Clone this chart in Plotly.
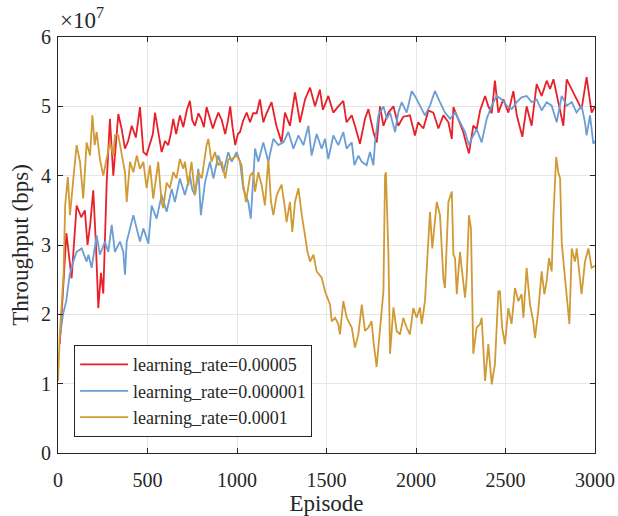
import plotly.graph_objects as go

# values in units of 1e7 bps
red_x = [10,47,76,104,130,150,165,180,197,212,225,240,253,272,290,309,337,356,374,392,412,435,458,477,495,514,530,542,560,579,598,616,630,644,660,681,700,720,737,750,765,785,800,815,830,849,865,880,896,915,934,950,962,975,990,1005,1017,1035,1054,1073,1090,1110,1128,1147,1165,1193,1220,1249,1268,1296,1324,1352,1380,1408,1436,1463,1480,1510,1538,1566,1594,1612,1641,1659,1687,1715,1734,1762,1781,1799,1818,1846,1874,1901,1929,1966,1994,2012,2041,2069,2097,2125,2153,2181,2200,2209,2237,2264,2283,2296,2320,2339,2358,2386,2404,2423,2441,2460,2488,2516,2544,2563,2594,2618,2646,2674,2702,2730,2749,2768,2795,2823,2842,2870,2897,2925,2953,2981,3000]
red_y = [1.57,3.17,2.52,3.57,3.4,3.5,3.0,3.3,3.79,3.0,2.09,2.6,2.3,3.9,4.82,4.0,4.89,4.67,4.39,4.5,4.72,4.55,4.99,4.34,4.3,4.48,4.6,4.91,4.6,4.34,4.5,4.44,4.6,4.82,4.6,4.87,4.7,4.95,5.08,4.8,4.72,4.9,4.82,4.7,4.99,4.8,4.68,4.8,4.91,4.8,4.6,4.8,5.0,4.7,4.44,4.6,4.63,4.8,4.91,4.77,4.9,4.9,5.1,4.77,4.9,5.06,4.72,4.48,4.91,4.72,5.2,4.77,5.1,5.27,5.0,5.24,4.95,5.15,4.91,5.0,5.08,4.77,4.87,4.72,4.46,4.82,4.96,4.63,4.48,5.0,4.72,4.91,5.0,4.72,4.85,4.87,4.58,4.77,4.68,4.94,4.91,4.68,4.87,4.77,4.53,4.99,4.8,4.63,4.44,4.32,4.72,4.67,4.94,5.15,5.0,4.9,5.37,4.91,5.1,4.91,5.22,4.87,4.56,5.0,4.72,5.32,5.15,5.37,5.25,5.39,5.06,4.72,5.39,5.25,5.1,4.96,5.42,4.91,5.0]

blue_x = [10,28,46,65,85,104,132,160,170,188,216,234,262,281,300,318,346,365,374,384,421,440,458,477,505,523,551,579,607,635,653,681,709,737,750,765,784,798,821,849,868,896,924,951,970,998,1017,1035,1063,1077,1090,1101,1119,1147,1175,1203,1231,1259,1287,1315,1343,1371,1399,1417,1445,1473,1492,1510,1538,1566,1594,1612,1641,1656,1678,1697,1724,1743,1762,1771,1790,1818,1837,1855,1883,1901,1920,1948,1976,1994,2022,2050,2078,2106,2134,2162,2190,2218,2246,2274,2296,2310,2339,2367,2395,2423,2451,2479,2507,2535,2563,2590,2618,2646,2674,2702,2730,2758,2786,2814,2842,2870,2897,2925,2944,2953,2972,2991,3000]
blue_y = [1.66,2.0,2.19,2.57,2.76,2.9,2.95,2.76,2.86,2.67,3.14,2.86,3.05,2.9,3.29,2.9,3.05,2.9,2.57,3.05,3.43,3.24,3.05,3.24,3.02,3.57,3.38,3.72,3.48,3.81,3.62,3.96,3.72,4.0,3.8,3.72,4.1,3.43,3.9,4.2,3.96,4.29,4.05,4.34,4.2,4.34,4.2,3.81,3.62,3.38,3.9,4.39,4.2,4.48,4.2,4.53,4.44,4.48,4.63,4.39,4.58,4.44,4.72,4.29,4.6,4.39,4.53,4.24,4.58,4.44,4.63,4.39,4.48,4.15,4.29,4.2,4.15,4.34,4.15,4.48,4.87,5.0,4.82,4.91,4.63,4.91,5.06,4.91,5.22,5.15,5.01,4.87,5.01,5.22,5.06,4.91,4.82,4.91,4.77,4.63,4.44,4.53,4.67,4.48,4.82,5.01,5.15,5.1,5.01,4.96,5.06,5.13,5.15,5.06,5.1,4.94,5.06,5.01,4.77,5.15,5.01,5.06,4.91,5.01,4.77,4.58,4.87,4.46,4.5]

gold_x = [0,10,31,40,55,67,86,104,123,141,160,179,192,205,216,234,253,272,290,309,318,337,356,374,384,402,421,440,458,477,495,514,532,551,560,579,588,607,625,644,662,681,700,709,728,746,765,784,803,830,840,858,877,896,915,934,952,971,1000,1026,1035,1050,1073,1091,1101,1119,1138,1156,1175,1190,1203,1222,1249,1268,1277,1296,1309,1324,1343,1362,1380,1394,1408,1427,1445,1463,1473,1492,1510,1520,1529,1548,1566,1575,1594,1613,1641,1659,1678,1697,1715,1734,1752,1762,1780,1799,1818,1827,1832,1846,1855,1874,1892,1911,1929,1948,1966,1985,2004,2022,2032,2050,2060,2078,2091,2103,2116,2134,2153,2162,2181,2200,2209,2218,2228,2237,2246,2255,2274,2283,2296,2307,2320,2339,2358,2367,2376,2386,2404,2423,2441,2460,2469,2481,2497,2516,2534,2553,2572,2590,2600,2618,2637,2655,2665,2683,2702,2717,2730,2743,2758,2768,2783,2795,2805,2814,2827,2842,2857,2870,2888,2898,2916,2925,2944,2963,2981,3000]
gold_y = [1.04,1.7,2.57,3.57,3.98,3.43,3.96,4.44,4.2,3.67,4.48,4.29,4.87,4.44,4.63,4.24,4.0,4.24,4.48,4.29,4.58,4.58,4.29,4.05,3.62,4.2,4.05,4.29,4.1,4.2,3.82,4.15,3.67,4.0,4.2,3.62,3.53,3.9,3.82,4.05,3.96,4.24,4.1,4.2,3.86,4.2,3.72,4.05,3.96,4.44,4.53,4.2,4.34,4.15,4.2,3.96,4.24,4.24,4.29,4.15,3.87,3.62,4.0,4.05,3.77,4.05,3.86,3.57,4.24,3.62,3.43,3.72,3.87,3.53,3.33,3.62,3.19,3.62,3.82,3.43,3.14,2.9,2.76,2.86,2.62,2.57,2.53,2.33,2.19,2.14,1.9,1.95,1.86,1.71,2.19,1.95,1.81,1.52,1.71,2.14,1.76,1.81,1.9,1.62,1.24,1.76,2.33,4.0,4.05,2.86,1.43,2.1,1.76,1.71,1.95,1.81,1.71,2.09,1.95,2.1,1.86,2.19,2.67,3.48,2.95,3.33,3.62,3.43,2.52,2.38,3.62,3.77,2.86,2.81,2.29,2.62,2.9,2.67,2.24,2.52,3.43,3.24,1.43,1.81,1.86,1.95,1.47,1.04,1.57,0.99,1.28,2.33,2.33,1.81,1.57,2.09,1.86,2.38,2.19,2.29,1.95,2.67,2.14,1.9,1.66,2.05,2.62,2.29,2.48,2.81,2.62,3.43,4.27,4.05,3.96,3.04,2.67,2.29,1.86,2.95,2.76,2.95,2.48,2.29,2.76,2.95,2.67,2.7]

names = ["learning_rate=0.00005", "learning_rate=0.000001", "learning_rate=0.0001"]
colors = ["#E8202A", "#6A9ED4", "#D09A35"]
x_ticks = [0, 500, 1000, 1500, 2000, 2500, 3000]
y_ticks = [0, 1, 2, 3, 4, 5, 6]

fig = go.Figure()
for xs, ys, n, c in [(red_x, red_y, names[0], colors[0]),
                     (blue_x, blue_y, names[1], colors[1]),
                     (gold_x, gold_y, names[2], colors[2])]:
    fig.add_trace(go.Scatter(x=xs, y=ys, mode="lines", name=n,
                             line=dict(color=c, width=1.8)))

font = "Liberation Serif, Times New Roman, serif"
axis_common = dict(showline=True, linecolor="#262626", linewidth=1, mirror="ticks",
                   ticks="inside", ticklen=5, tickcolor="#262626", automargin=False,
                   showgrid=True, gridcolor="#E6E6E6", gridwidth=1, zeroline=False,
                   tickfont=dict(family=font, size=20, color="#262626"))
fig.update_layout(
    width=618, height=516,
    margin=dict(l=58, r=23, t=37, b=63),
    paper_bgcolor="white", plot_bgcolor="white",
    font=dict(family=font, color="#262626"),
    xaxis=dict(range=[0, 3000], tickvals=x_ticks, ticklabelstandoff=9,
               title=dict(text="Episode", font=dict(family=font, size=23), standoff=10),
               **axis_common),
    yaxis=dict(range=[0, 6], tickvals=y_ticks, ticklabelstandoff=2,
               title=dict(text="Throughput (bps)", font=dict(family=font, size=23), standoff=5),
               **axis_common),
    legend=dict(x=0.03, y=0.038, xanchor="left", yanchor="bottom",
                bgcolor="white", bordercolor="#262626", borderwidth=1,
                font=dict(family=font, size=18, color="#262626"),
                tracegroupgap=0, itemwidth=48),
    showlegend=True,
    annotations=[dict(text="×10<sup>7</sup>", x=0, y=1.0, xref="paper", yref="paper",
                      xanchor="left", yanchor="bottom", showarrow=False, xshift=0, yshift=2,
                      font=dict(family=font, size=23, color="#262626"))],
)
fig.write_html("out.html")
